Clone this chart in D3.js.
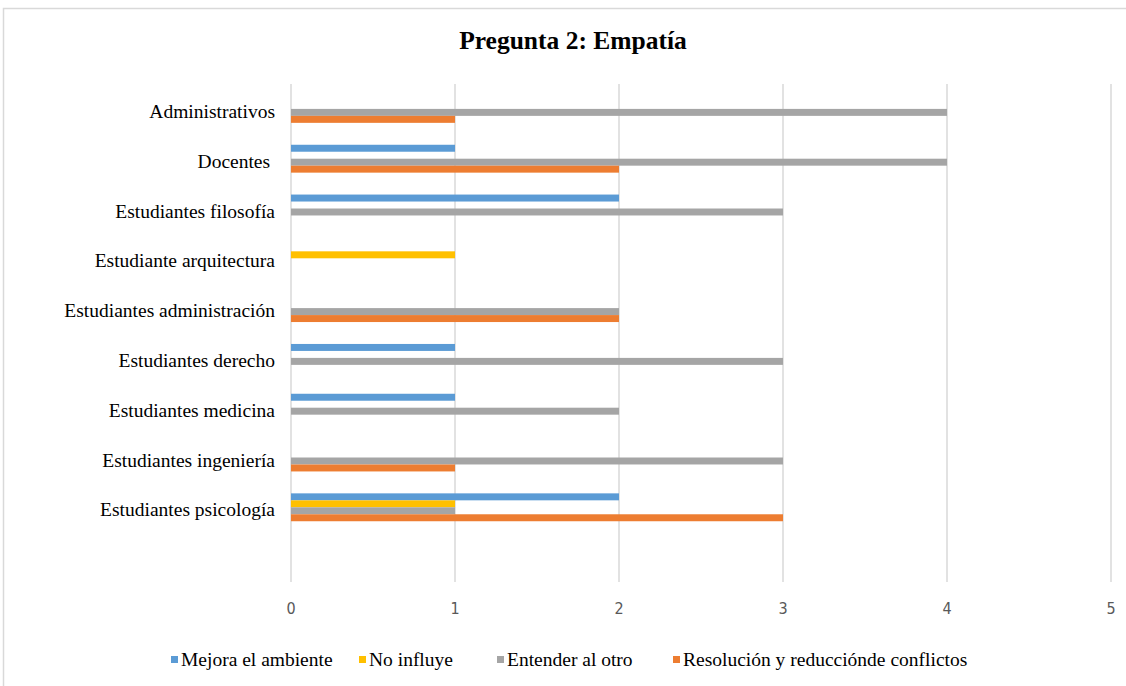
<!DOCTYPE html>
<html>
<head>
<meta charset="utf-8">
<script src="https://cdn.jsdelivr.net/npm/d3@7"></script>
<style>
  body { margin: 0; background: #fff; }
  svg { display: block; }
  text { white-space: pre; }
</style>
</head>
<body>
<svg id="chart"></svg>
<script>
// categories top to bottom (last one is an empty row in the sheet)
const categories = [
    "Administrativos", "Docentes ", "Estudiantes filosofía", "Estudiante arquitectura",
    "Estudiantes administración", "Estudiantes derecho", "Estudiantes medicina",
    "Estudiantes ingeniería", "Estudiantes psicología", ""
];
const seriesNames = ["Mejora el ambiente", "No influye", "Entender al otro", "Resolución y reducciónde conflictos"];
const seriesColors = ["#5b9bd5", "#ffc000", "#a5a5a5", "#ed7d31"];
// values per category, same order as categories
const mejora     = [0, 1, 2, 0, 0, 1, 1, 0, 2, 0];
const noInfluye  = [0, 0, 0, 1, 0, 0, 0, 0, 1, 0];
const entender   = [4, 4, 3, 0, 2, 3, 2, 3, 1, 0];
const resolucion = [1, 2, 0, 0, 2, 0, 0, 1, 3, 0];
const seriesValues = [mejora, noInfluye, entender, resolucion];
const xTicks = [0, 1, 2, 3, 4, 5];

const width = 1126, height = 686;
const plot = { left: 291, right: 1111, top: 84, bottom: 582 };
const serif = "'Liberation Serif', 'Times New Roman', serif";

const svg = d3.select("#chart")
    .attr("width", width)
    .attr("height", height);

// chart frame
svg.append("rect")
    .attr("x", 3.5).attr("y", 8.5)
    .attr("width", width + 10).attr("height", height + 10)
    .attr("fill", "#fff")
    .attr("stroke", "#d9d9d9")
    .attr("stroke-width", 1.5);

svg.append("text")
    .attr("x", 573).attr("y", 49)
    .attr("text-anchor", "middle")
    .attr("font-family", serif)
    .attr("font-weight", "bold")
    .attr("font-size", 25.5)
    .attr("fill", "#000")
    .text("Pregunta 2: Empatía");

const x = d3.scaleLinear().domain([0, 5]).range([plot.left, plot.right]);
const y = d3.scaleBand().domain(d3.range(categories.length)).range([plot.top, plot.bottom]).paddingInner(0.44).paddingOuter(0.22);
const ySub = d3.scaleBand().domain(d3.range(seriesNames.length)).range([0, y.bandwidth()]);

// gridlines
svg.append("g")
    .selectAll("line")
    .data(xTicks)
    .join("line")
    .attr("x1", d => x(d)).attr("x2", d => x(d))
    .attr("y1", plot.top).attr("y2", plot.bottom)
    .attr("stroke", "#d9d9d9")
    .attr("stroke-width", 1.5);

// tick labels
svg.append("g")
    .selectAll("text")
    .data(xTicks)
    .join("text")
    .attr("x", d => x(d))
    .attr("y", 614)
    .attr("text-anchor", "middle")
    .attr("font-family", "'DejaVu Sans Condensed', 'Liberation Sans', sans-serif")
    .attr("font-size", 16)
    .attr("fill", "#595959")
    .text(d => d);

// bars
const groups = svg.append("g")
    .selectAll("g")
    .data(categories)
    .join("g")
    .attr("transform", (d, i) => `translate(0,${y(i)})`);

groups.selectAll("rect")
    .data((d, i) => seriesValues.map((vals, s) => ({ s, v: vals[i] })))
    .join("rect")
    .attr("x", x(0))
    .attr("y", d => ySub(d.s))
    .attr("width", d => x(d.v) - x(0))
    .attr("height", ySub.bandwidth())
    .attr("fill", d => seriesColors[d.s]);

// category labels
svg.append("g")
    .selectAll("text")
    .data(categories)
    .join("text")
    .attr("x", 275)
    .attr("y", (d, i) => y(i) + y.bandwidth() / 2 + 9)
    .attr("text-anchor", "end")
    .attr("font-family", serif)
    .attr("font-size", 19.5)
    .attr("fill", "#000")
    .text(d => d);

// legend
const legendX = [171, 359, 497, 673];
const legend = svg.append("g")
    .selectAll("g")
    .data(seriesNames)
    .join("g")
    .attr("transform", (d, i) => `translate(${legendX[i]},656)`);
legend.append("rect")
    .attr("width", 7).attr("height", 7)
    .attr("fill", (d, i) => seriesColors[i]);
legend.append("text")
    .attr("x", 10).attr("y", 10)
    .attr("font-family", serif)
    .attr("font-size", 19.5)
    .attr("fill", "#000")
    .text(d => d);
</script>
</body>
</html>
